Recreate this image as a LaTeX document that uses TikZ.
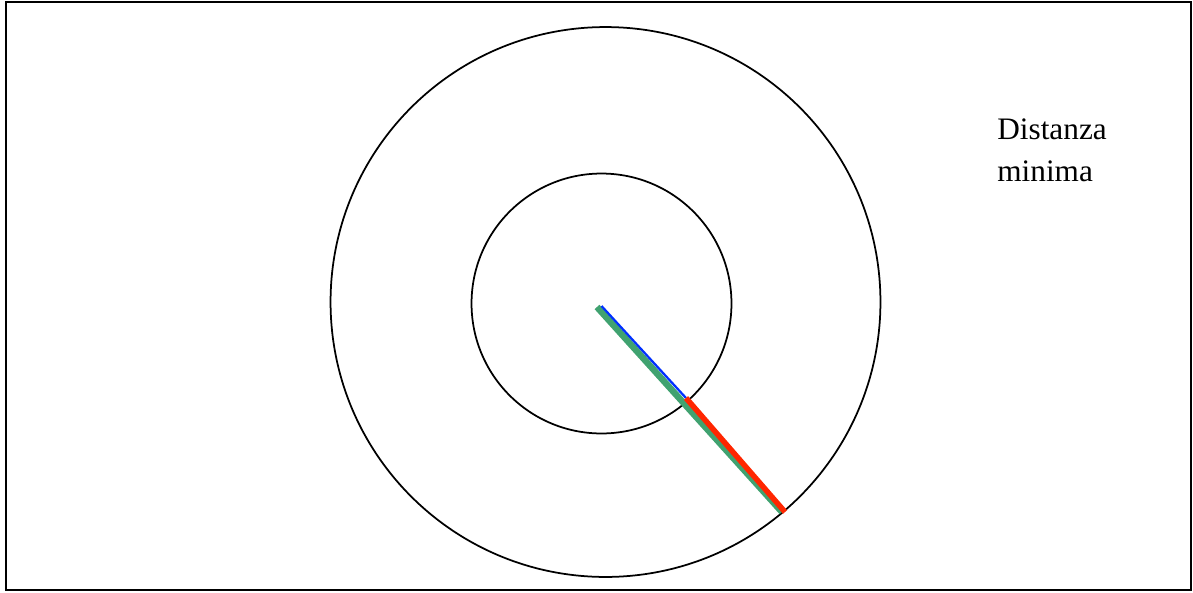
\documentclass[tikz,border=0pt]{standalone}
\usepackage{fontspec}
\setmainfont{Liberation Serif}
\definecolor{lineagreen}{RGB}{64,162,112}
\definecolor{linearossa}{RGB}{255,38,0}
\definecolor{lineablu}{RGB}{0,48,255}
\begin{document}
\begin{tikzpicture}[x=0.02cm,y=-0.02cm]
  % 参数
  \def\Rout{5.5cm}
  \def\Rin{2.6cm}
  \useasboundingbox (0,0) rectangle (1193,592);

  % 1. 外框
  \draw[line width=0.04cm] (6,2) rectangle (1191,590);

  % 2. 两个圆
  \coordinate (Oest) at (605.5,302);
  \coordinate (Oint) at (601.5,303.5);
  \draw[line width=0.035cm] (Oest) circle (\Rout);
  \draw[line width=0.035cm] (Oint) circle (\Rin);

  % 3. 线段端点
  \coordinate (Gstart) at (597,307);
  \coordinate (Gend) at (782,512);
  \coordinate (Bstart) at (601.5,306);
  \coordinate (Bend) at (686,398);
  \coordinate (Rend) at (785,512);

  % 4. 线段（绿 → 蓝 → 红）
  \draw[lineagreen, line width=0.13cm] (Gstart) -- (Gend);
  \draw[lineablu, line width=0.045cm] (Bstart) -- (Bend);
  \draw[linearossa, line width=0.11cm] (Bend) -- (Rend);

  % 5. 文字
  \node[anchor=north west, inner sep=0pt, align=left,
        font=\fontsize{17.8}{24}\selectfont] (testo) at (997,118)
        {Distanza\\minima};
\end{tikzpicture}
\end{document}
